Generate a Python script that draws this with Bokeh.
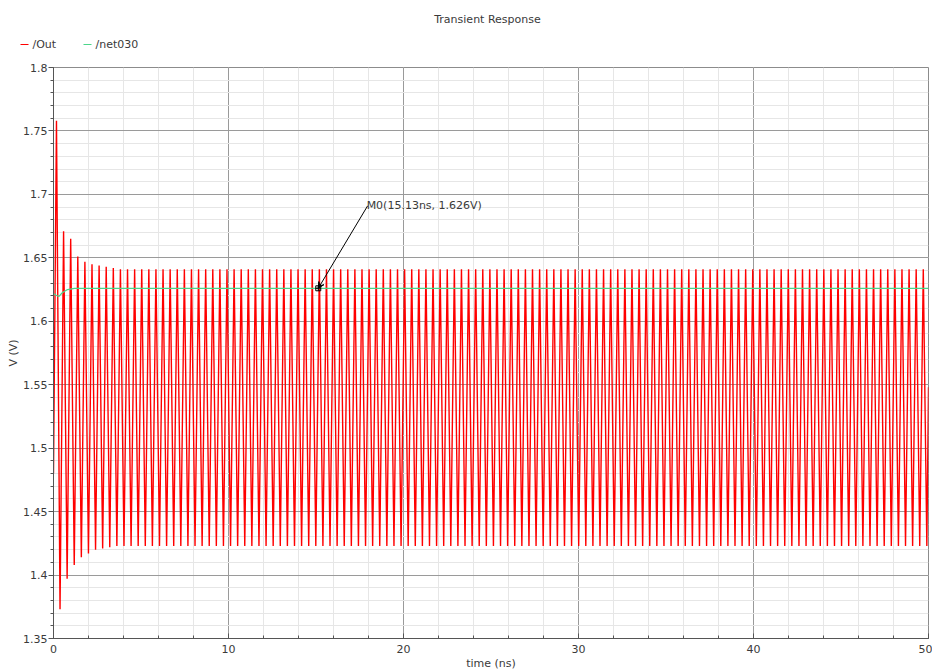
from bokeh.plotting import figure
from bokeh.layouts import column, row
from bokeh.models import (Range1d, SingleIntervalTicker, CustomJSTickFormatter,
                          Arrow, VeeHead, Label)
from bokeh.core.properties import value
from bokeh.embed import file_html
from bokeh.resources import INLINE

T_END = 50.0  # ns

# /Out: ringing oscillator output, extremes per cycle while settling, then steady levels
out_start_t, out_start_v = 0.0, 1.48
out_first_peak_t = 0.17          # ns
out_period = 0.406               # ns
out_settle_peaks = [1.758, 1.671, 1.665, 1.651, 1.647, 1.645, 1.644, 1.643, 1.642]
out_settle_troughs = [1.373, 1.397, 1.408, 1.414, 1.417, 1.420, 1.421, 1.422]
out_steady_peak = 1.641
out_steady_trough = 1.423
out_end_v = 1.548

# /net030: bias node
net030_t = [0.0, 0.15, 0.3, 0.5, 0.8, 1.2, 50.0]
net030_v = [1.622, 1.6205, 1.6195, 1.6225, 1.625, 1.626, 1.626]

# marker M0
m0_t, m0_v = 15.13, 1.626
m0_text = "M0(15.13ns, 1.626V)"
m0_label_t, m0_label_v = 17.95, 1.691

series_names = ["/Out", "/net030"]
series_colors = ["#ff0000", "#4cd68a"]
title_text = "Transient Response"

x_ticks_interval = 10
y_ticks_interval = 0.05

# assemble the /Out polyline from its peaks and troughs
out_t = [out_start_t]
out_v = [out_start_v]
k = 0
while True:
    tp = out_first_peak_t + k * out_period
    if tp > T_END:
        break
    out_t.append(tp)
    out_v.append(out_settle_peaks[k] if k < len(out_settle_peaks) else out_steady_peak)
    tt = tp + out_period / 2
    if tt > T_END:
        break
    out_t.append(tt)
    out_v.append(out_settle_troughs[k] if k < len(out_settle_troughs) else out_steady_trough)
    k += 1
out_t.append(T_END)
out_v.append(out_end_v)

FONT = "DejaVu Sans"
TXT = "#3a3a3a"

# ---- header strip: title and series key, in pixel coordinates ----
HEAD_W, HEAD_H = 932, 60
head = figure(width=HEAD_W, height=HEAD_H,
              x_range=Range1d(0, HEAD_W), y_range=Range1d(HEAD_H, 0),
              x_axis_type=None, y_axis_type=None,
              output_backend="svg", toolbar_location=None,
              min_border=0, min_border_left=0, min_border_right=0,
              min_border_top=0, min_border_bottom=0)
head.grid.visible = False
head.outline_line_color = None
head.background_fill_color = "white"
head.border_fill_color = "white"

head.text(x=[487], y=[19], text=[title_text], text_align="center",
          text_baseline="middle", text_font=value(FONT), text_font_size="11px",
          text_color=TXT)

key_x0 = [20, 83]          # left end of each key swatch
key_y = 44
head.segment(x0=key_x0, y0=[key_y] * 2, x1=[x + 8 for x in key_x0], y1=[key_y] * 2,
             line_color=series_colors, line_width=1.2)
head.text(x=[x + 12 for x in key_x0], y=[key_y] * 2, text=series_names,
          text_align="left", text_baseline="middle", text_font=value(FONT),
          text_font_size="11px", text_color=TXT)

# ---- main plot ----
p = figure(frame_width=875, frame_height=571,
           x_range=Range1d(0, T_END), y_range=Range1d(1.35, 1.8),
           output_backend="svg", toolbar_location=None,
           min_border_left=53, min_border_right=4,
           min_border_top=7, min_border_bottom=33)
p.background_fill_color = "white"
p.border_fill_color = "white"
p.outline_line_color = "#8c8c8c"

r_out = p.line(out_t, out_v, line_color=series_colors[0], line_width=1.4)
r_net = p.line(net030_t, net030_v, line_color=series_colors[1], line_width=1.2)

for g in (p.xgrid, p.ygrid):
    g.grid_line_color = "#9a9a9a"
    g.grid_line_width = 1
    g.minor_grid_line_color = "#e6e6e6"
    g.minor_grid_line_width = 1

p.xaxis.ticker = SingleIntervalTicker(interval=x_ticks_interval, num_minor_ticks=5)
p.yaxis.ticker = SingleIntervalTicker(interval=y_ticks_interval, num_minor_ticks=5)
fmt = "return String(Number(tick.toFixed(3)));"
p.yaxis.formatter = CustomJSTickFormatter(code=fmt)
p.xaxis.formatter = CustomJSTickFormatter(code=fmt)

p.xaxis.axis_label = "time (ns)"
p.yaxis.axis_label = "V (V)"
for ax in (p.xaxis, p.yaxis):
    ax.axis_label_text_font = FONT
    ax.axis_label_text_font_size = "11px"
    ax.axis_label_text_font_style = "normal"
    ax.axis_label_text_color = TXT
    ax.major_label_text_font = FONT
    ax.major_label_text_font_size = "11px"
    ax.major_label_text_color = TXT
    ax.axis_line_color = "#555555"
    ax.major_tick_line_color = "#555555"
    ax.minor_tick_line_color = "#555555"

# time axis: ticks point into the plot
p.xaxis.major_tick_out = 0
p.xaxis.major_tick_in = 5
p.xaxis.minor_tick_out = 0
p.xaxis.minor_tick_in = 3
p.xaxis.major_label_standoff = 6
p.xaxis.axis_label_standoff = 1

# voltage axis: ticks point outward
p.yaxis.major_tick_out = 5
p.yaxis.major_tick_in = 0
p.yaxis.minor_tick_out = 3
p.yaxis.minor_tick_in = 0
p.yaxis.major_label_standoff = 1
p.yaxis.axis_label_standoff = 0

# marker M0 with its callout
p.scatter([m0_t], [m0_v], marker="square_cross", size=5,
          line_color="black", fill_color=None, line_width=1)
p.add_layout(Arrow(end=VeeHead(size=6, line_color="black", line_width=1, fill_color="black"),
                   x_start=m0_label_t, y_start=m0_label_v, x_end=m0_t, y_end=m0_v,
                   line_color="black", line_width=1))
p.add_layout(Label(x=m0_label_t, y=m0_label_v, text=m0_text, text_baseline="middle",
                   text_align="left", text_font=FONT, text_font_size="11px",
                   text_color=TXT, x_offset=-1))

# the header sits in its own row so its frame keeps the full page width
layout = column(row(head), p, spacing=0)
open("out.html", "w").write(file_html(layout, INLINE))
